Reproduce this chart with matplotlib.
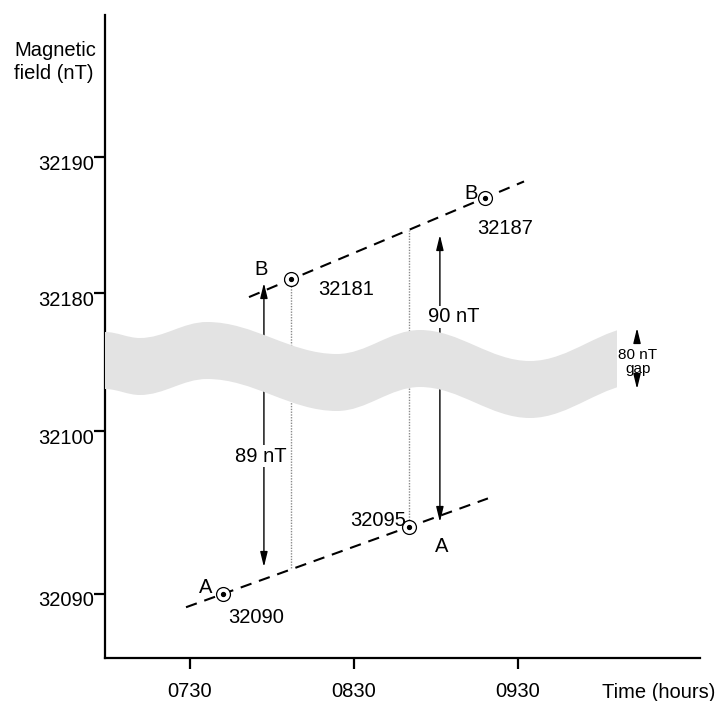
import numpy as np
import matplotlib
matplotlib.use("Agg")
from matplotlib import pyplot as plt
from matplotlib.path import Path
from matplotlib.patches import PathPatch, Rectangle
from matplotlib.transforms import ScaledTranslation

plt.rcParams['font.family'] = ['Liberation Sans', 'DejaVu Sans']

# readings (time in decimal hours, field in nT)
point_names = ['A', 'A', 'B', 'B']
point_times = [7 + 42/60, 8 + 50/60, 8 + 7/60, 9 + 18/60]
point_values = [32090, 32095, 32181, 32187]

# drawn extent of the two dashed trend lines (hours)
lineA_span = [7.476, 9.317]
lineB_span = [7.860, 9.537]

# broken y axis: field value -> drawn row (pixels from the top)
scale_vals = [32090, 32095, 32100, 32180, 32190]
scale_rows = [594, 527, 431, 293, 157]
ytick_vals = [32090, 32100, 32180, 32190]

xtick_vals = [7.5, 8.5, 9.5]
xtick_labels = ['0730', '0830', '0930']

# wavy grey "gap" band: turning points of its top edge (hours, row)
band_t = [6.982, 7.195, 7.604, 8.396, 8.902, 9.573, 10.26]
band_top = [332, 338, 322, 354, 330, 361, 326]
band_thick = 57
band_end = 10.104


def ypos(v):
    return np.interp(v, scale_vals, scale_rows)


def line_rows(t, t1, v1, t2, v2):
    y1, y2 = ypos(v1), ypos(v2)
    return y1 + (np.asarray(t) - t1) * (y2 - y1) / (t2 - t1)


def wave_path(ts, ys, dy, k=0.36):
    # smooth edge through turning points (flat tangents), top then bottom
    verts = [(ts[0], ys[0])]
    codes = [Path.MOVETO]
    for i in range(len(ts) - 1):
        d = (ts[i + 1] - ts[i]) * k
        verts += [(ts[i] + d, ys[i]), (ts[i + 1] - d, ys[i + 1]), (ts[i + 1], ys[i + 1])]
        codes += [Path.CURVE4] * 3
    verts.append((ts[-1], ys[-1] + dy))
    codes.append(Path.LINETO)
    for i in range(len(ts) - 1, 0, -1):
        d = (ts[i] - ts[i - 1]) * k
        verts += [(ts[i] - d, ys[i] + dy), (ts[i - 1] + d, ys[i - 1] + dy), (ts[i - 1], ys[i - 1] + dy)]
        codes += [Path.CURVE4] * 3
    verts.append((ts[0], ys[0]))
    codes.append(Path.CLOSEPOLY)
    return Path(verts, codes)


fig = plt.figure(figsize=(7.23, 7.01), dpi=100)
ax = fig.add_axes([105/723, 43/701, 595/723, 643/701])
ax.set_xlim(6.982, 10.61)
ax.set_ylim(658, 15)

for s in ['top', 'right']:
    ax.spines[s].set_visible(False)
for s in ['left', 'bottom']:
    ax.spines[s].set_linewidth(1.6)

ax.set_xticks(xtick_vals)
ax.set_xticklabels(xtick_labels)
ax.set_yticks([ypos(v) for v in ytick_vals])
ax.set_yticklabels([str(v) for v in ytick_vals])
ax.tick_params(axis='both', direction='out', length=8, width=1.6, labelsize=14.5)
ax.tick_params(axis='x', pad=9)
ax.tick_params(axis='y', pad=0)
for lab in ax.get_yticklabels():
    lab.set_transform(lab.get_transform() + ScaledTranslation(0, -5/100, fig.dpi_scale_trans))

fig.text(14/723, 1 - 62/701, 'Magnetic\nfield (nT)', fontsize=14.5, ha='left', va='center',
         linespacing=1.3)
fig.text(602/723, 1 - 693/701, 'Time (hours)', fontsize=14.5, ha='left', va='center')

tA1, tA2 = point_times[0], point_times[1]
vA1, vA2 = point_values[0], point_values[1]
tB1, tB2 = point_times[2], point_times[3]
vB1, vB2 = point_values[2], point_values[3]

dash = (0, (5.5, 3.8))
ax.plot(lineA_span, line_rows(lineA_span, tA1, vA1, tA2, vA2), color='black', lw=1.5, ls=dash, zorder=3)
ax.plot(lineB_span, line_rows(lineB_span, tB1, vB1, tB2, vB2), color='black', lw=1.5, ls=dash, zorder=3)

# dotted verticals joining a reading to the other trend line
ax.plot([tB1, tB1], [ypos(vB1) + 7, line_rows(tB1, tA1, vA1, tA2, vA2)],
        color='#8a8a8a', lw=1, ls=(0, (1, 1)), zorder=2)
ax.plot([tA2, tA2], [ypos(vA2) - 7, line_rows(tA2, tB1, vB1, tB2, vB2)],
        color='#8a8a8a', lw=1, ls=(0, (1, 1)), zorder=2)

# difference arrows
arrow = dict(arrowstyle='<|-|>,head_length=0.9,head_width=0.22', color='black', lw=1,
             shrinkA=0, shrinkB=0, mutation_scale=10)
ax.annotate('', xy=(7.951, 283), xytext=(7.951, 567), arrowprops=arrow, zorder=2)
ax.text(7.933, 456, '89 nT', fontsize=14.5, ha='center', va='center', zorder=2,
        bbox=dict(facecolor='white', edgecolor='none', pad=1))
ax.annotate('', xy=(9.024, 235), xytext=(9.024, 522), arrowprops=arrow, zorder=2)
ax.text(9.110, 317, '90 nT', fontsize=14.5, ha='center', va='center', zorder=2,
        bbox=dict(facecolor='white', edgecolor='none', pad=1))

# grey band hides the broken part of the scale
band = PathPatch(wave_path(band_t, band_top, band_thick), facecolor='#e3e3e3',
                 edgecolor='none', zorder=4)
ax.add_patch(band)
clip = Rectangle((band_t[0], 0), band_end - band_t[0], 700, transform=ax.transData)
band.set_clip_path(clip)

# gap marker on the right
one = dict(arrowstyle='-|>,head_length=0.9,head_width=0.22', color='black', lw=1,
           shrinkA=0, shrinkB=0, mutation_scale=10)
ax.annotate('', xy=(10.226, 328), xytext=(10.226, 343), arrowprops=one, zorder=5)
ax.annotate('', xy=(10.226, 389), xytext=(10.226, 375), arrowprops=one, zorder=5)
ax.text(10.232, 362, '80 nT\ngap', fontsize=11, ha='center', va='center', linespacing=1.05, zorder=6)

# reading markers
for t, v in zip(point_times, point_values):
    ax.plot(t, ypos(v), marker='o', ms=10, mfc='white', mec='black', mew=0.9, zorder=6)
    ax.plot(t, ypos(v), marker='o', ms=2.8, color='black', zorder=7)

name_off = [(-12.2, 5), (23.8, -14.4), (-21.6, 7.2), (-10, 2.9)]
val_off = [(23.8, -16.6), (-2, 5), (39.6, -7.2), (14.4, -22.3)]
val_ha = ['center', 'right', 'center', 'center']
for i in range(4):
    xy = (point_times[i], ypos(point_values[i]))
    ax.annotate(point_names[i], xy, xytext=name_off[i], textcoords='offset points',
                fontsize=14.5, ha='center', va='center', zorder=8)
    ax.annotate(str(point_values[i]), xy, xytext=val_off[i], textcoords='offset points',
                fontsize=14.5, ha=val_ha[i], va='center', zorder=8)

fig.savefig('out.png', dpi=100)
